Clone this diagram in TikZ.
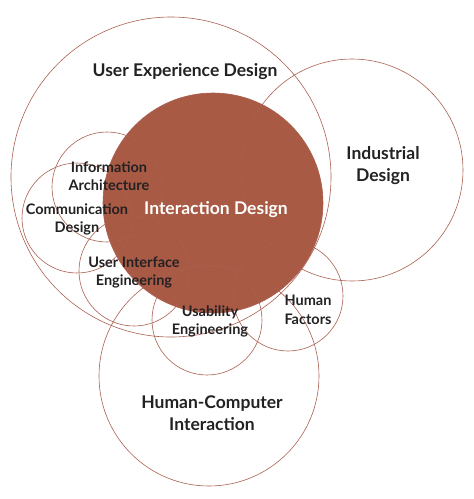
\documentclass[tikz,border=0pt]{standalone}
\usepackage{fontspec}
\setmainfont{Lato}
\usepackage{tikz}

\definecolor{rust}{RGB}{169,90,68}
\definecolor{rustline}{RGB}{170,95,80}
\definecolor{ink}{RGB}{35,33,35}

\begin{document}
\begin{tikzpicture}[x=1pt,y=-1pt,
  field/.style={circle,draw=rustline,line width=0.6pt,inner sep=0pt,outer sep=0pt},
  core/.style={circle,fill=rust,inner sep=0pt,outer sep=0pt},
  biglbl/.style={align=center,text=ink,font=\bfseries\fontsize{17.5}{22}\selectfont},
  smalllbl/.style={align=center,text=ink,font=\bfseries\fontsize{14.5}{18.5}\selectfont}]
\useasboundingbox (0,0) rectangle (474,499);
\node[core,minimum size=220pt] (ixdfill) at (213,203) {};
\node[field,minimum size=320pt] (ux) at (171,177) {};
\node[field,minimum size=222pt] (ind) at (352,170) {};
\node[field,minimum size=220pt] (hci) at (209,376) {};
\node[field,minimum size=220pt] (ixd) at (213,203) {};
\node[field,minimum size=110pt] (ia) at (107,187) {};
\node[field,minimum size=110pt] (comm) at (77,218) {};
\node[field,minimum size=110pt] (uie) at (134,271) {};
\node[field,minimum size=110pt] (usab) at (207,320) {};
\node[field,minimum size=110pt] (hf) at (288,296) {};
% labels
\node[biglbl] (uxlbl) at (185,72) {User Experience Design};
\node[biglbl] (indlbl) at (383,165.5) {Industrial\\Design};
\node[biglbl,text=white] (ixdlbl) at (216,210) {Interaction Design};
\node[biglbl] (hcilbl) at (212,413) {Human-Computer\\Interaction};
\node[smalllbl] (ialbl) at (109,176) {Information\\Architecture};
\node[smalllbl] (commlbl) at (77,219.5) {Communication\\Design};
\node[smalllbl] (uielbl) at (134,272.5) {User Interface\\Engineering};
\node[smalllbl] (usablbl) at (210,321.5) {Usability\\Engineering};
\node[smalllbl] (hflbl) at (308,310) {Human\\Factors};
\end{tikzpicture}
\end{document}
